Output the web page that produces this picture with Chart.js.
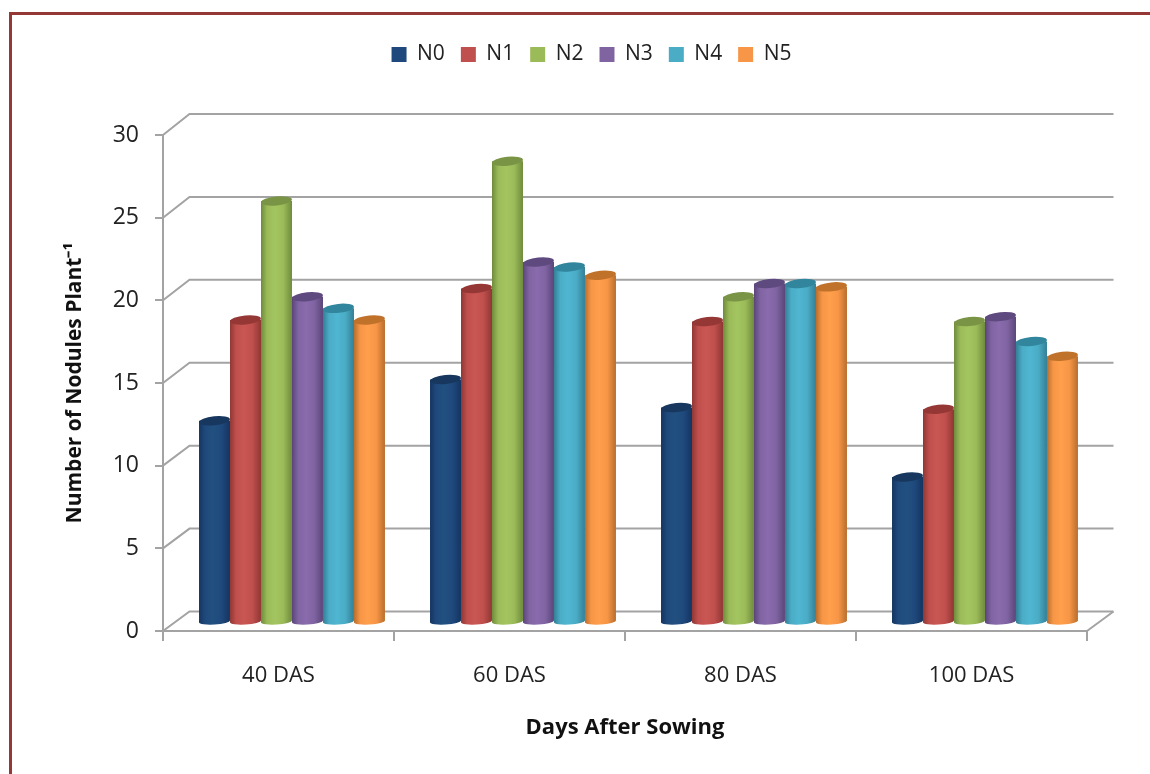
<!DOCTYPE html>
<html>
<head>
<meta charset="utf-8">
<title>Number of Nodules</title>
<script src="https://cdn.jsdelivr.net/npm/chart.js@4"></script>
<style>
    html, body { margin: 0; padding: 0; background: #fff; }
    #wrap { position: relative; width: 1150px; height: 774px; overflow: hidden; }
    #frame { position: absolute; left: 9px; top: 12px; right: -10px; bottom: -10px;
             border-left: 3px solid #953735; border-top: 3px solid #953735; }
    canvas { position: absolute; left: 0; top: 0; }
</style>
</head>
<body>
<div id="wrap">
    <div id="frame"></div>
    <canvas id="nodulesChart" width="1150" height="774"></canvas>
</div>
<script>
const categories = ['40 DAS', '60 DAS', '80 DAS', '100 DAS'];
const seriesNames = ['N0', 'N1', 'N2', 'N3', 'N4', 'N5'];
const n0 = [12.2, 14.7, 13.0, 8.8];
const n1 = [18.3, 20.2, 18.2, 12.9];
const n2 = [25.5, 27.9, 19.7, 18.2];
const n3 = [19.7, 21.8, 20.5, 18.5];
const n4 = [19.0, 21.5, 20.5, 17.0];
const n5 = [18.3, 21.0, 20.3, 16.1];
const seriesValues = [n0, n1, n2, n3, n4, n5];
const seriesColors = ['#1F497D', '#C0504D', '#9BBB59', '#8064A2', '#4BACC6', '#F79646'];
const bodyColors = ['#21507f', '#c95653', '#a3c560', '#8a6bad', '#4fb6d1', '#ff9e4b'];
const sideColors = ['#143560', '#8f3734', '#6f8b3c', '#5a4579', '#337f95', '#b86e2e'];
const topColors = ['#17375e', '#953735', '#7a9445', '#5f4a80', '#31859c', '#c0722b'];

const fontFamily = '"Open Sans", sans-serif';
const gridColor = '#a3a3a3';
const depthX = 26.5, depthY = -19.5;   // back wall offset
const barShiftX = 13.5, barShiftY = -8.5; // bars stand in the middle of the floor

// grey back wall + the little diagonals going to the front axis
const wallPlugin = {
    id: 'wall',
    beforeDatasetsDraw(chart) {
        const ctx = chart.ctx, y = chart.scales.y, area = chart.chartArea;
        ctx.save();
        ctx.strokeStyle = gridColor;
        ctx.lineWidth = 2;
        y.ticks.forEach(t => {
            // back wall is a touch taller than the front axis
            const py = y.getPixelForValue(t.value);
            const backY = py + depthY - t.value * 0.05;
            ctx.beginPath();
            ctx.moveTo(area.left, py);
            ctx.lineTo(area.left + depthX, backY);
            ctx.lineTo(area.right + depthX, backY);
            ctx.stroke();
        });
        const py0 = y.getPixelForValue(0);
        ctx.beginPath();
        ctx.moveTo(area.right, py0);
        ctx.lineTo(area.right + depthX, py0 + depthY);
        ctx.stroke();
        ctx.restore();
    }
};

// bars are drawn as cylinders from the positions the bar elements got
const cylinderPlugin = {
    id: 'cylinder',
    beforeDatasetDraw(chart, args) {
        const ctx = chart.ctx, i = args.index;
        args.meta.data.forEach(bar => {
            const p = bar.getProps(['x', 'y', 'base', 'width'], true);
            const left = p.x - p.width / 2 + barShiftX, w = p.width;
            const cx = left + w / 2;
            const top = p.y + barShiftY, bottom = p.base + barShiftY;
            const g = ctx.createLinearGradient(left, 0, left + w, 0);
            g.addColorStop(0, sideColors[i]);
            g.addColorStop(0.2, seriesColors[i]);
            g.addColorStop(0.45, bodyColors[i]);
            g.addColorStop(0.72, seriesColors[i]);
            g.addColorStop(1, sideColors[i]);
            ctx.save();
            ctx.fillStyle = g;
            ctx.beginPath();
            ctx.moveTo(left, top);
            ctx.lineTo(left, bottom);
            ctx.ellipse(cx, bottom, w / 2, 3, -0.06, Math.PI, 0, true);
            ctx.lineTo(left + w, top);
            ctx.closePath();
            ctx.fill();
            ctx.fillStyle = topColors[i];
            ctx.beginPath();
            ctx.ellipse(cx, top, w / 2, 4.5, -0.1, 0, Math.PI * 2);
            ctx.fill();
            ctx.restore();
        });
        return false;
    }
};

new Chart(document.getElementById('nodulesChart').getContext('2d'), {
    type: 'bar',
    data: {
        labels: categories,
        datasets: seriesNames.map((name, i) => ({
            label: name,
            data: seriesValues[i],
            backgroundColor: seriesColors[i],
            categoryPercentage: 0.805,
            barPercentage: 1
        }))
    },
    plugins: [wallPlugin, cylinderPlugin],
    options: {
        responsive: false,
        animation: false,
        devicePixelRatio: 1,
        layout: { padding: { left: 33, right: 0, top: 28, bottom: 33 } },
        plugins: {
            tooltip: { enabled: false },
            // empty title only keeps the gap between legend and plot
            title: {
                display: true,
                text: '',
                font: { size: 20 },
                padding: { top: 36, bottom: 0 }
            },
            legend: {
                position: 'top',
                weight: 3000,
                labels: {
                    boxWidth: 15,
                    boxHeight: 15,
                    padding: 16,
                    color: '#222',
                    font: { family: fontFamily, size: 21 }
                }
            }
        },
        scales: {
            x: {
                grid: { drawOnChartArea: false, color: gridColor, lineWidth: 2, tickLength: 10 },
                border: { color: gridColor, width: 2 },
                ticks: { color: '#222', padding: 22, font: { family: fontFamily, size: 22 } },
                title: {
                    display: true,
                    text: 'Days After Sowing',
                    color: '#111',
                    padding: { top: 17, bottom: 0 },
                    font: { family: fontFamily, size: 22, weight: 'bold' }
                },
                afterFit(scale) { scale.height = 110; }
            },
            y: {
                min: 0,
                max: 30,
                ticks: { stepSize: 5, color: '#222', padding: 16, font: { family: fontFamily, size: 23 } },
                grid: { drawOnChartArea: false, color: gridColor, lineWidth: 2, tickLength: 8 },
                border: { color: gridColor, width: 2 },
                title: {
                    display: true,
                    text: 'Number of Nodules Plant⁻¹',
                    color: '#111',
                    padding: { top: 29, bottom: 0 },
                    font: { family: fontFamily, size: 21, weight: 'bold' }
                },
                afterFit(scale) { scale.width = 130; }
            },
            // empty axis on the right, keeps the legend centred where it should be
            spacer: {
                position: 'right',
                ticks: { display: false },
                grid: { display: false },
                border: { display: false },
                afterFit(scale) { scale.width = 63; }
            }
        }
    }
});
</script>
</body>
</html>
